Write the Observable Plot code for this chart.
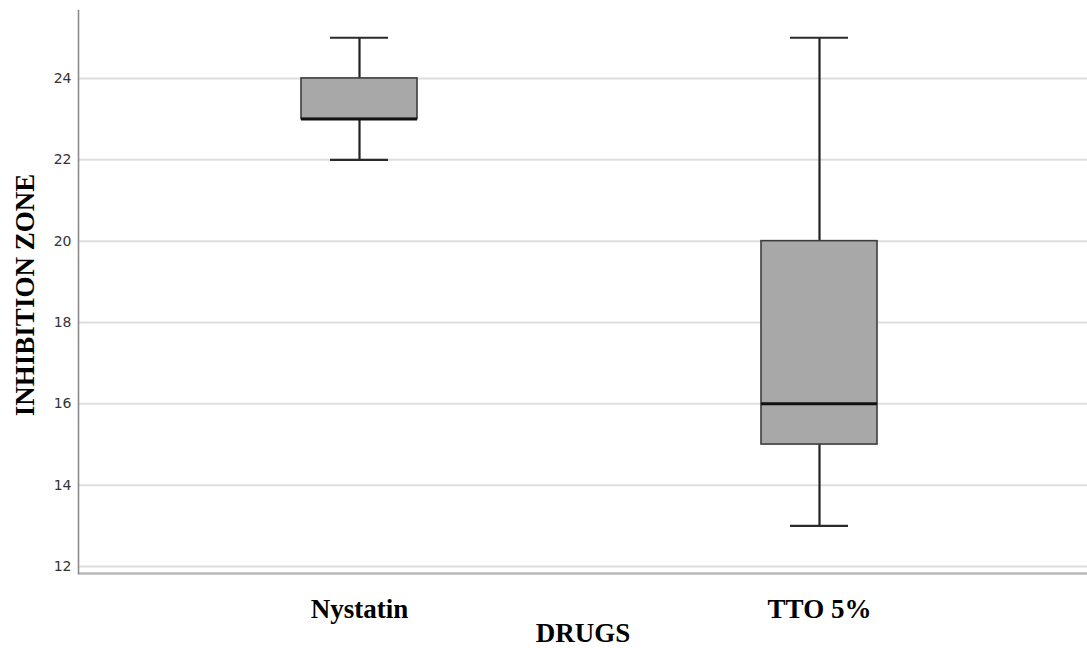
<!DOCTYPE html>
<html>
<head>
<meta charset="utf-8">
<script src="https://cdn.jsdelivr.net/npm/d3@7"></script>
<script src="https://cdn.jsdelivr.net/npm/@observablehq/plot@0.6"></script>
<style>
  html, body { margin: 0; padding: 0; background: #fff; }
</style>
</head>
<body>
<div id="chart"></div>
<script>
// Data
const drugs   = ["Nystatin", "TTO 5%"];
const minimum = [22, 13];
const q1      = [23, 15];
const median  = [23, 16];
const q3      = [24, 20];
const maximum = [25, 25];
const yTicks  = [12, 14, 16, 18, 20, 22, 24];
const xTitle  = "DRUGS";
const yTitle  = "INHIBITION ZONE";

const rows = drugs.map((d, i) => ({
  drug: d, min: minimum[i], q1: q1[i], median: median[i], q3: q3[i], max: maximum[i]
}));

const yDomain = [11.83, 25.67];
const serif = "'Liberation Serif', 'Times New Roman', serif";

const chart = Plot.plot({
  width: 1087,
  height: 648,
  marginLeft: 78,
  marginRight: 0,
  marginTop: 10,
  marginBottom: 75,
  style: { background: "#fff", overflow: "visible" },
  x: {
    type: "band",
    domain: drugs,
    paddingInner: 0.748,
    paddingOuter: 0.4707,
    align: 0.515,
    axis: null
  },
  y: { domain: yDomain, axis: null },
  marks: [
    Plot.ruleY(yTicks, { stroke: "#dedede", strokeWidth: 2 }),
    Plot.ruleY([yDomain[0]], { stroke: "#b8b8b8", strokeWidth: 2.5 }),
    Plot.frame({ anchor: "left", stroke: "#8a8a8a", strokeWidth: 1.6 }),
    // whiskers
    Plot.ruleX(rows, { x: "drug", y1: "q3", y2: "max", stroke: "#222", strokeWidth: 2.2 }),
    Plot.ruleX(rows, { x: "drug", y1: "min", y2: "q1", stroke: "#222", strokeWidth: 2.2 }),
    // caps
    Plot.tickY(rows, { x: "drug", y: "max", stroke: "#2a2a2a", strokeWidth: 2.2, insetLeft: 29, insetRight: 29 }),
    Plot.tickY(rows, { x: "drug", y: "min", stroke: "#2a2a2a", strokeWidth: 2.2, insetLeft: 29, insetRight: 29 }),
    // boxes
    Plot.barY(rows, { x: "drug", y1: "q1", y2: "q3", fill: "#a8a8a8", stroke: "#3c3c3c", strokeWidth: 1.6 }),
    // medians
    Plot.tickY(rows, { x: "drug", y: "median", stroke: "#111", strokeWidth: 3 }),
    // axes
    Plot.axisY(yTicks, {
      tickSize: 0, tickPadding: 7, fontSize: 14, fill: "#333",
      fontFamily: "'DejaVu Sans', sans-serif", label: null
    }),
    Plot.axisX({
      tickSize: 0, tickPadding: 25, fontSize: 27, fontWeight: "bold",
      fontFamily: serif, fill: "#000", label: null
    }),
    Plot.text([xTitle], {
      text: d => d, frameAnchor: "bottom", dy: 68, lineAnchor: "bottom",
      fontSize: 27, fontWeight: "bold", fontFamily: serif, fill: "#000"
    }),
    Plot.text([yTitle], {
      text: d => d, frameAnchor: "left", dx: -45, dy: 3, rotate: -90,
      lineAnchor: "bottom", textAnchor: "middle",
      fontSize: 27, fontWeight: "bold", fontFamily: serif, fill: "#000"
    })
  ]
});

document.getElementById("chart").appendChild(chart);
</script>
</body>
</html>
